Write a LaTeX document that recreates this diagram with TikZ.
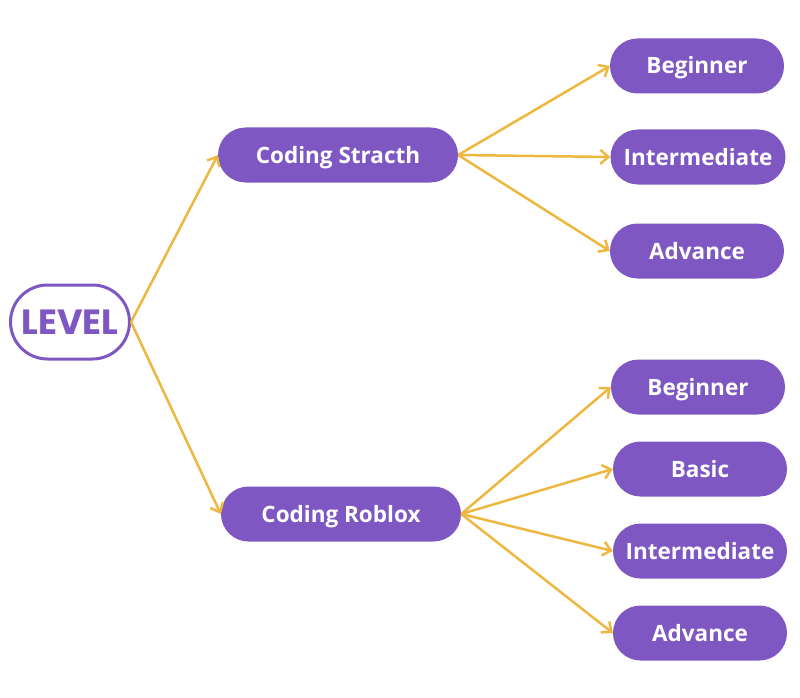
\documentclass[tikz,border=0pt]{standalone}
\usepackage{fontspec}
\setmainfont{Open Sans}
\newfontfamily\levelfont{Poppins}
\usetikzlibrary{arrows.meta,shapes.misc}
\definecolor{boxpurple}{HTML}{7E57C2}
\definecolor{arrowgold}{HTML}{EDB740}
\tikzset{
  pill/.style={rounded rectangle, fill=boxpurple, draw=none, minimum height=55pt,
    text=white, font=\fontsize{22.5}{26}\selectfont\bfseries, inner xsep=0pt,
    text height=16pt, text depth=0pt},
  rootbox/.style={rounded rectangle, draw=boxpurple, line width=3pt, fill=white,
    minimum width=119pt, minimum height=74pt, text=boxpurple, inner xsep=0pt,
    font=\levelfont\fontsize{35}{40}\selectfont\bfseries, text height=24.5pt, text depth=0pt},
  conn/.style={draw=arrowgold, line width=2.5pt, -{Straight Barb[length=8pt,width=14pt,line width=2.5pt]}}
}
\begin{document}
\begin{tikzpicture}[x=1pt,y=-1pt]
\useasboundingbox (0,0) rectangle (800,698);
\node[rootbox] (level) at (70,322) {LEVEL};
\node[pill, minimum width=240pt] (scratch) at (338,155) {Coding Stracth};
\node[pill, minimum width=240pt] (roblox) at (341,514) {Coding Roblox};
\node[pill, minimum width=174pt] (b1) at (697,66) {Beginner};
\node[pill, minimum width=175pt] (i1) at (698,157) {Intermediate};
\node[pill, minimum width=174pt] (a1) at (697,251) {Advance};
\node[pill, minimum width=174pt] (b2) at (698,387) {Beginner};
\node[pill, minimum width=174pt] (s2) at (700,469) {Basic};
\node[pill, minimum width=174pt] (i2) at (700,551) {Intermediate};
\node[pill, minimum width=174pt] (a2) at (700,633) {Advance};
\draw[conn] (level.east) -- (scratch.west);
\draw[conn] (level.east) -- (roblox.west);
\foreach \t in {b1,i1,a1} \draw[conn] (scratch.east) -- (\t.west);
\foreach \t in {b2,s2,i2,a2} \draw[conn] (roblox.east) -- (\t.west);
\end{tikzpicture}
\end{document}
